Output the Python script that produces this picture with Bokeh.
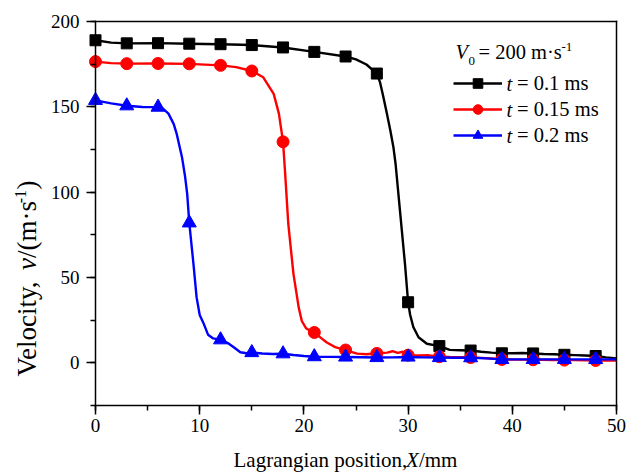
import numpy as np
from bokeh.plotting import figure
from bokeh.models import (Range1d, SingleIntervalTicker, FixedTicker, LinearAxis, Label,
                          Legend, LegendItem)
from bokeh.embed import file_html
from bokeh.resources import INLINE

# ---------------- data ----------------
marker_x = [0, 3, 6, 9, 12, 15, 18, 21, 24, 27, 30, 33, 36, 39, 42, 45, 48]
marker_v_01 = [189.0, 187.2, 187.3, 187.0, 186.7, 186.2, 184.8, 182.2, 179.5, 169.5,
               35.5, 9.8, 7.2, 5.6, 5.5, 4.7, 4.0]
marker_v_015 = [176.5, 175.3, 175.4, 175.2, 174.3, 171.0, 129.5, 17.8, 7.5, 5.5,
                4.5, 3.6, 3.1, 2.0, 1.8, 1.6, 1.4]
marker_v_02 = [153.8, 150.6, 149.8, 82.0, 13.5, 6.0, 5.3, 3.6, 3.4, 3.1,
               3.4, 3.1, 3.0, 2.0, 2.0, 2.0, 2.0]

line_x_01 = [0, 1.5, 3, 6, 9, 12, 15, 18, 21, 24, 25, 26, 27, 27.3, 27.6, 28.0, 28.3,
             28.6, 28.8, 29.1, 29.4, 29.7, 30.0, 30.2, 30.5, 31.0, 31.8, 33.0, 34.0,
             35.0, 36.0, 37.0, 38.0, 39.0, 40.0, 41.0, 42.0, 43.0, 44.0, 45.0, 46.0,
             47.0, 48.0, 49.0, 50.0]
line_v_01 = [189.0, 187.6, 187.2, 187.3, 187.0, 186.7, 186.2, 184.8, 182.2, 179.5,
             177.8, 174.8, 169.5, 164.5, 156.5, 145.0, 136.0, 126.0, 116.5, 97.0, 77.5,
             58.0, 35.5, 28.0, 21.0, 15.0, 11.2, 9.8, 7.6, 7.4, 7.2, 6.5, 6.0, 5.6, 5.6,
             5.8, 5.5, 5.2, 5.0, 4.7, 4.5, 4.3, 4.0, 3.2, 2.6]

line_x_015 = [0, 1.5, 3, 6, 9, 12, 13.5, 15, 16.1, 17.1, 17.6, 18.0, 18.2, 18.5, 19.0,
              19.5, 19.8, 20.2, 20.6, 21.0, 21.6, 22.2, 23.0, 24.0, 25.1, 26.0, 27.0,
              28.0, 28.5, 29.0, 29.5, 30.0, 31.0, 32.0, 33.0, 34.0, 35.0, 36.0, 37.0,
              38.0, 39.0, 40, 41, 42, 43, 44, 45, 46, 47, 48, 49, 50]
line_v_015 = [176.5, 175.6, 175.3, 175.4, 175.2, 174.3, 173.3, 171.0, 167.3, 157.6,
              146.0, 129.5, 111.0, 81.5, 52.0, 32.5, 24.5, 20.3, 18.8, 17.8, 14.8, 11.9,
              9.2, 7.5, 5.4, 5.0, 5.6, 6.0, 6.8, 5.8, 6.5, 4.5, 4.3, 4.4, 3.6, 3.4, 3.3,
              3.1, 2.9, 2.5, 2.0, 1.9, 1.9, 1.8, 1.8, 1.7, 1.6, 1.6, 1.5, 1.4, 1.4, 1.3]

line_x_02 = [0, 1.5, 3, 4.5, 6, 6.5, 7.0, 7.5, 7.8, 8.3, 8.6, 8.8, 9.0, 9.2, 9.4, 9.7,
             10.0, 10.4, 10.8, 11.3, 12.0, 12.7, 13.3, 13.9, 14.5, 15.0, 16.0, 17.0,
             18.0, 19.0, 20.0, 21.0, 22.5, 24.0, 25.5, 27.0, 28.5, 30.0, 31.5, 33.0,
             34.5, 36.0, 37.5, 39.0, 40.5, 42.0, 43.5, 45.0, 46.5, 48.0, 49, 50]
line_v_02 = [153.8, 152.0, 150.6, 149.9, 149.8, 148.8, 146.0, 140.0, 134.0, 120.5,
             109.0, 99.0, 82.0, 70.0, 58.0, 38.5, 28.0, 22.7, 16.5, 14.3, 13.5, 11.6,
             9.0, 6.2, 5.6, 6.0, 5.5, 5.2, 5.3, 4.6, 4.0, 3.6, 3.5, 3.4, 3.3, 3.1, 3.2,
             3.4, 3.2, 3.1, 3.0, 3.0, 2.6, 2.0, 2.0, 2.0, 2.0, 2.0, 2.0, 2.0, 2.0, 2.0]

series_labels = ["= 0.1 ms", "= 0.15 ms", "= 0.2 ms"]
x_box = (0, 50)       # visible axis box
y_box = (-25, 200)

# ---------------- geometry: the frame is the whole canvas, axes sit at fixed locations ----------------
FONT = "Liberation Serif"
W, H = 627, 473
BOX_L, BOX_R, BOX_T, BOX_B = 95, 616, 21, 405      # pixel edges of the axis box
sx = (BOX_R - BOX_L) / (x_box[1] - x_box[0])
sy = (BOX_B - BOX_T) / (y_box[1] - y_box[0])
xr = (x_box[0] - BOX_L / sx, x_box[1] + (W - BOX_R) / sx)
yr = (y_box[0] - (H - BOX_B) / sy, y_box[1] + BOX_T / sy)

def dx(px):
    return xr[0] + px / sx
def dy(py):
    return yr[1] - py / sy

p = figure(width=W, height=H, output_backend="svg", toolbar_location=None,
           x_range=Range1d(*xr), y_range=Range1d(*yr), min_border=0,
           x_axis_location=None, y_axis_location=None)
p.grid.visible = False
p.outline_line_color = None
p.background_fill_color = "white"
p.border_fill_color = "white"

def style_axis(ax):
    ax.axis_line_width = 1.5
    ax.axis_line_color = "black"
    ax.axis_line_cap = "square"
    ax.major_tick_line_width = 1.5
    ax.minor_tick_line_width = 1.5
    ax.major_tick_line_color = "black"
    ax.minor_tick_line_color = "black"
    ax.major_tick_out = 9
    ax.major_tick_in = 0
    ax.minor_tick_out = 5
    ax.minor_tick_in = 0
    ax.major_label_text_font = FONT
    ax.major_label_text_font_size = "19px"
    ax.major_label_text_color = "black"

xax = LinearAxis(ticker=SingleIntervalTicker(interval=10, num_minor_ticks=2),
                 fixed_location=y_box[0], bounds=x_box, major_label_standoff=4)
yax = LinearAxis(ticker=SingleIntervalTicker(interval=50, num_minor_ticks=2),
                 fixed_location=x_box[0], bounds=y_box, major_label_standoff=7)
tax = LinearAxis(ticker=FixedTicker(ticks=[]), fixed_location=y_box[1], bounds=x_box)
rax = LinearAxis(ticker=FixedTicker(ticks=[]), fixed_location=x_box[1], bounds=y_box)
for ax in (xax, yax, tax, rax):
    style_axis(ax)
p.add_layout(xax, "below")
p.add_layout(yax, "left")
p.add_layout(tax, "above")
p.add_layout(rax, "right")

# ---------------- series ----------------
r1l = p.line(line_x_01, line_v_01, line_color="black", line_width=2.4)
r1m = p.scatter(marker_x, marker_v_01, marker="square", size=11, color="black")
r2l = p.line(line_x_015, line_v_015, line_color="#ff0000", line_width=2.4)
r2m = p.scatter(marker_x, marker_v_015, marker="circle", size=12, color="#ff0000")
r3l = p.line(line_x_02, line_v_02, line_color="#0000ff", line_width=2.4)
r3m = p.scatter(marker_x, marker_v_02, marker="triangle", size=14, color="#0000ff")

BASE_FIX = 0.3   # Bokeh's alphabetic anchor sits ~0.3 em below the true baseline

def lab(px, py, text, size, italic=False, rotated=False, baseline="alphabetic"):
    """px, py: canvas pixel of the desired text start on its baseline."""
    if baseline == "alphabetic":
        if rotated:
            px -= BASE_FIX * size
        else:
            py -= BASE_FIX * size
    p.add_layout(Label(x=dx(px), y=dy(py), x_units="data", y_units="data", text=text,
                       text_font=FONT, text_font_size=f"{size}px",
                       text_font_style="italic" if italic else "normal",
                       text_color="black", text_align="left", text_baseline=baseline,
                       angle=np.pi / 2 if rotated else 0.0))

# ---------------- legend ----------------
row_h, gap = 24, 2
first_row_center = 83
leg_top = first_row_center - row_h / 2
leg_h = 3 * row_h + 2 * gap
legend = Legend(items=[LegendItem(label=series_labels[0], renderers=[r1l, r1m]),
                       LegendItem(label=series_labels[1], renderers=[r2l, r2m]),
                       LegendItem(label=series_labels[2], renderers=[r3l, r3m])],
                location=(453, H - (leg_top + leg_h)),
                padding=0, margin=0, spacing=gap, glyph_width=49, glyph_height=row_h,
                label_height=row_h, label_standoff=15, label_text_font=FONT,
                label_text_font_size="20.5px", label_text_color="black",
                border_line_alpha=0, background_fill_alpha=0)
p.add_layout(legend)
for k in range(3):
    lab(506, first_row_center + k * (row_h + gap), "t", 20.5, italic=True, baseline="middle")

lab(455, 58, "V", 20.5, italic=True)
lab(468, 64, "0", 13)
lab(478, 58, "= 200 m·s", 20.5)
lab(561, 50, "-1", 13)

# ---------------- axis titles ----------------
fs = 21
x0 = 233
lab(x0, 466, "Lagrangian position,", fs)
xx = x0 + 8027 * fs / 1000 + 4
lab(xx, 466, "X", fs, italic=True)
lab(xx + 611 * fs / 1000, 466, "/mm", fs)

fy = 27
fsup = 16
bx = 35
yy = 376
lab(bx, yy, "Velocity,", fy, rotated=True)
yy -= 3944 * fy / 1000
lab(bx, yy, "v", fy, italic=True, rotated=True)
yy -= 444 * fy / 1000
lab(bx, yy, "/(m·s", fy, rotated=True)
yy -= 2028 * fy / 1000
lab(bx - 10.5, yy, "-1", fsup, rotated=True)
yy -= 833 * fsup / 1000 + 0.5
lab(bx, yy, ")", fy, rotated=True)

open("out.html", "w").write(file_html(p, INLINE))
